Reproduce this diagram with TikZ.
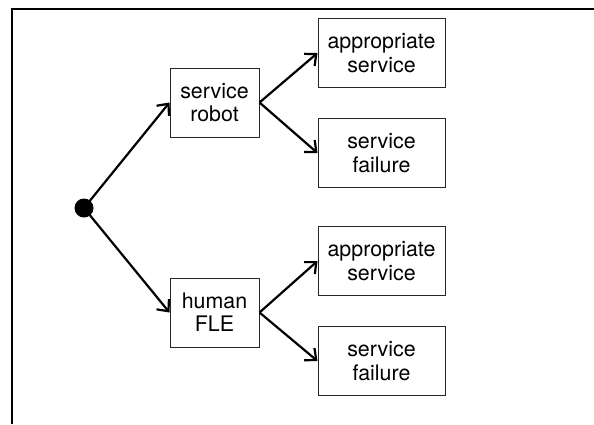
\documentclass[tikz,border=0pt]{standalone}
\usepackage{fontspec}
\setmainfont{TeX Gyre Heros}
\usetikzlibrary{arrows.meta}
\usetikzlibrary{positioning}

\begin{document}
\begin{tikzpicture}[x=0.5pt,y=-0.5pt]
  \tikzset{
    box/.style={draw=black!85,line width=0.5pt,minimum height=34.5pt,align=center,inner sep=2pt,
      font=\fontsize{10.7}{11.6}\selectfont},
    agent/.style={box,minimum width=44.5pt},
    outcome/.style={box,minimum width=63.5pt},
    branch/.style={line width=1.1pt,-{Straight Barb[length=4.5pt,width=8pt]}}
  }
    \useasboundingbox (0,0) rectangle (594,424);
    %FRAME
    \draw[line width=1pt] (12,424) -- (12,9) -- (594,9);

    %ROOT
    \node[circle,fill=black,inner sep=0pt,minimum size=9.5pt] (root) at (84,208) {};

    %FIRST LEVEL
    \node[agent] (robot) at (214.5,102.5) {service\\robot};
    \node[agent] (human) at (214.5,312.5) {human\\FLE};

    %SECOND LEVEL
    \node[outcome] (robotok)   at (381.5,53)  {appropriate\\service};
    \node[outcome] (robotfail) at (381.5,153) {service\\failure};
    \node[outcome] (humanok)   at (381.5,261) {appropriate\\service};
    \node[outcome] (humanfail) at (381.5,361) {service\\failure};

    \foreach \a/\s/\b in {root/center/robot,root/center/human,robot/east/robotok,robot/east/robotfail,human/east/humanok,human/east/humanfail} {
      \draw[branch] (\a.\s) -- (\b.west) ;
    }
  \end{tikzpicture}
\end{document}
